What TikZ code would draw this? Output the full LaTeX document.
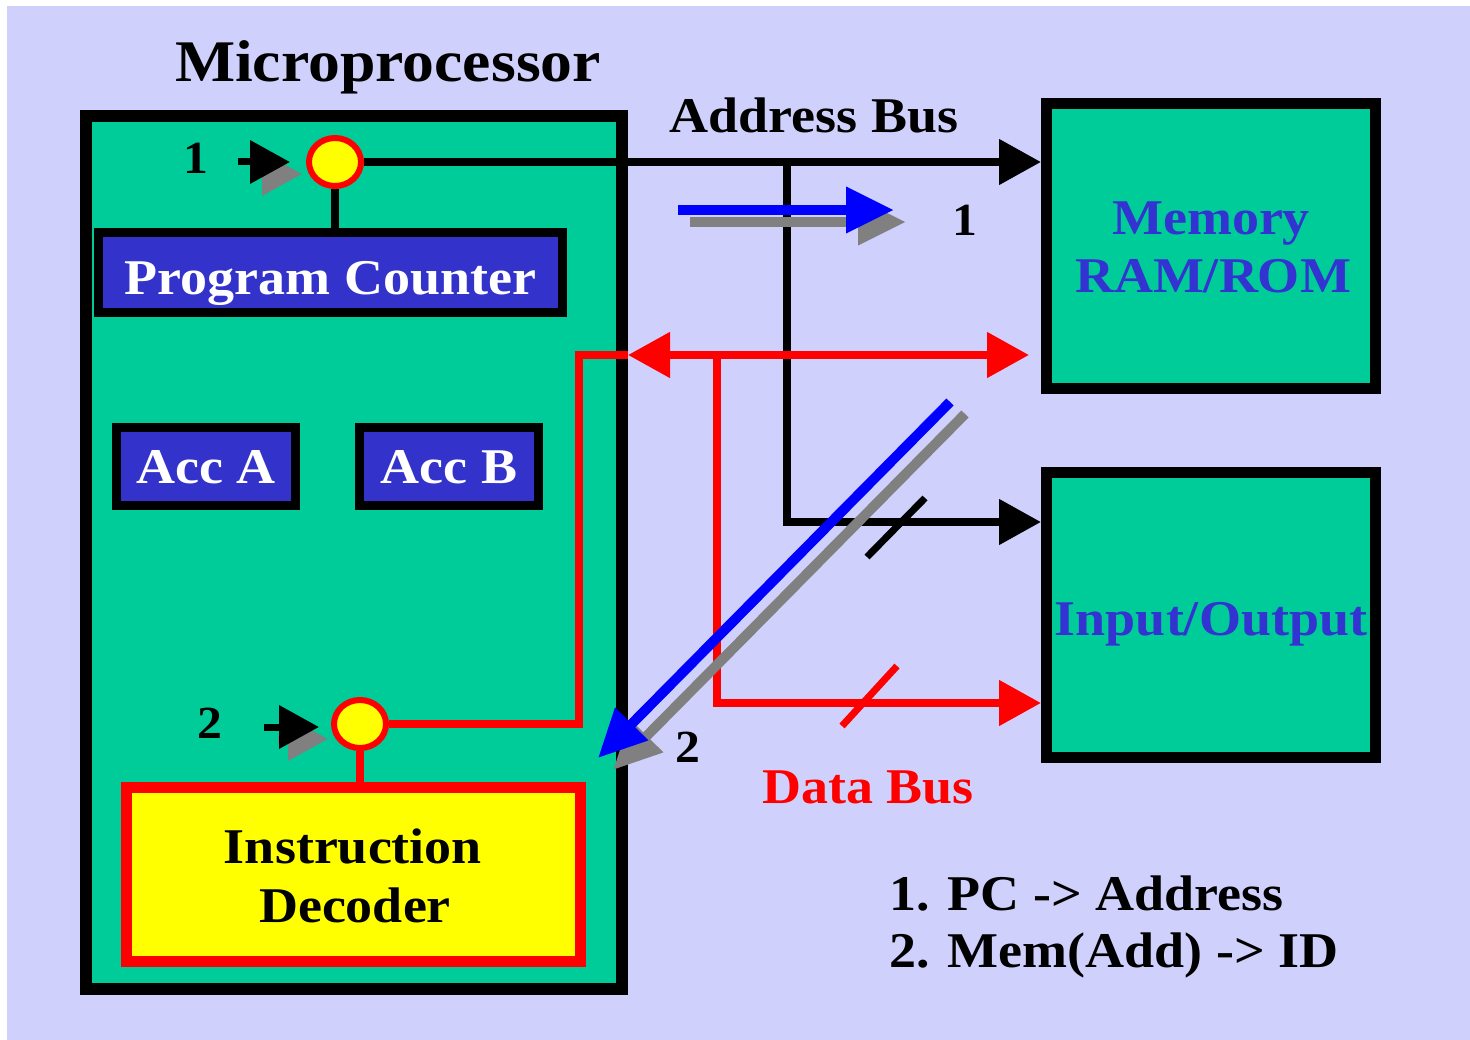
\documentclass[tikz,border=0pt]{standalone}
\usepackage{fontspec}
\setmainfont{Liberation Serif}[FakeStretch=1.08]
\usetikzlibrary{arrows.meta,shapes.geometric,calc}
\definecolor{lav}{RGB}{208,208,252}
\definecolor{grn}{RGB}{0,204,153}
\definecolor{pblue}{RGB}{51,51,204}
\definecolor{tblue}{RGB}{51,51,210}
\definecolor{shad}{RGB}{128,128,128}
\definecolor{bred}{RGB}{255,0,0}
\definecolor{byel}{RGB}{255,255,0}
\definecolor{arrblue}{RGB}{0,0,255}
\tikzset{
  headB/.tip={Triangle[length=42pt,width=44pt]},
  headS/.tip={Triangle[length=40pt,width=42pt]},
  headD/.tip={Triangle[length=48pt,width=44pt]},
  txt/.style={font=\fontsize{50}{57}\selectfont\bfseries, inner sep=0pt},
  numtxt/.style={font=\fontsize{46}{50}\selectfont\bfseries, inner sep=0pt},
  regbox/.style={draw=black, line width=9pt, fill=pblue, text=white, inner sep=0pt,
    font=\fontsize{50}{57}\selectfont\bfseries, text depth=0pt},
  greenbox/.style={draw=black, line width=11pt, fill=grn, inner sep=0pt},
  node1/.style={ellipse, draw=bred, line width=6pt, fill=byel, minimum width=52pt, minimum height=48pt, inner sep=0pt},
  blk/.style={draw=black, line width=8pt},
  redl/.style={draw=bred, line width=8pt},
  bluel/.style={draw=arrblue, line width=10pt},
  shadl/.style={draw=shad, line width=10pt},
}
\begin{document}
\begin{tikzpicture}[x=1pt,y=-1pt]
\useasboundingbox (0,0) rectangle (1470,1040);
\fill[white] (0,0) rectangle (1470,1040);
\fill[lav] (7,6) rectangle (1470,1040);

% microprocessor
\node[txt, anchor=base, font=\fontsize{59}{66}\selectfont\bfseries] (mptitle) at (388,82) {Microprocessor};
\node[draw=black, line width=12pt, fill=grn, minimum width=536pt, minimum height=873pt, inner sep=0pt] (cpu) at (354,552.5) {};

\node[regbox, minimum width=464pt, minimum height=80pt, text height=44pt] (pc) at (330.5,272.5) {Program Counter};
\node[regbox, minimum width=179pt, minimum height=78pt, text height=33pt] (accA) at (206,466.5) {Acc A};
\node[regbox, minimum width=179pt, minimum height=78pt, text height=33pt] (accB) at (449,466.5) {Acc B};

\node[draw=bred, line width=11pt, fill=byel, minimum width=454pt, minimum height=174pt, inner sep=0pt] (id) at (353.5,874.5) {};
\node[txt, anchor=base] (idt1) at (353,863) {Instruction};
\node[txt, anchor=base] (idt2) at (355,922) {Decoder};

% memory and io
\node[greenbox, minimum width=329pt, minimum height=285pt] (mem) at (1211,246) {};
\node[txt, anchor=base, text=tblue] (memt1) at (1211,235) {Memory};
\node[txt, anchor=base, text=tblue] (memt2) at (1213,293) {RAM/ROM};
\node[greenbox, minimum width=329pt, minimum height=285pt, text=tblue, font=\fontsize{50}{57}\selectfont\bfseries, text height=40pt, text depth=0pt] (io) at (1211,615) {Input/Output};

% address bus
\node[txt, anchor=base] (abl) at (814,133) {Address Bus};
\coordinate (aj) at (787,162);
\coordinate (ak) at (787,522);
\node[node1] (c1) at (335,162) {};
\draw[blk] (c1.south) -- (c1.south |- pc.north);
\draw[blk, -{headB}] (c1.east) -- (c1.east -| mem.west);
\draw[blk, -{headB}, line join=miter] (aj) -- (ak) -- (ak -| io.west);
\draw[blk, line width=7pt] (867,557) -- (925,498);

% data bus
\node[node1] (c2) at (360,724) {};
\coordinate (dl) at (579,355);
\coordinate (dj) at (717,355);
\coordinate (dk) at (717,703);
\draw[redl] (c2.south) -- (c2.south |- id.north);
\draw[redl, line join=miter] (c2.east) -| (dl) -- (dl -| cpu.east);
\draw[redl, {headB}-{headB}] (dl -| cpu.east) -- ($(dl -| mem.west)+(-12,0)$);
\draw[redl, -{headB}, line join=miter] (dj) -- (dk) -- (dk -| io.west);
\draw[redl, line width=7pt] (842,726) -- (897,666);
\node[txt, anchor=base, text=bred] (dbl) at (868,803) {Data Bus};

% step arrows
\coordinate (s1a) at (678,210);
\coordinate (s1b) at (894,210);
\draw[shadl, -{headD}] ($(s1a)+(12,12)$) -- ($(s1b)+(12,12)$);
\draw[bluel, -{headD}] (s1a) -- (s1b);
\node[numtxt] (n1b) at (965,220) {1};

\coordinate (s2a) at (950,402);
\coordinate (s2b) at (598,758);
\draw[shadl, -{headD}] ($(s2a)+(15,12)$) -- ($(s2b)+(15,12)$);
\draw[bluel, -{headD}] (s2a) -- (s2b);
\node[numtxt] (n2b) at (688,747) {2};

% small pointer arrows
\node[numtxt] (n1a) at (196,158) {1};
\draw[draw=shad, line width=7pt, -{headS}] (252,174) -- (302,174);
\draw[draw=black, line width=7pt, -{headS}] (238,162) -- (290,162);
\node[numtxt] (n2a) at (210,723) {2};
\draw[draw=shad, line width=7pt, -{headS}] (278,739) -- (328,739);
\draw[draw=black, line width=7pt, -{headS}] (264,727) -- (319,727);

% notes
\node[txt, anchor=base west] (note1) at (889,910) {1. PC -> Address};
\node[txt, anchor=base west] (note2) at (889,967) {2. Mem(Add) -> ID};
\end{tikzpicture}
\end{document}
